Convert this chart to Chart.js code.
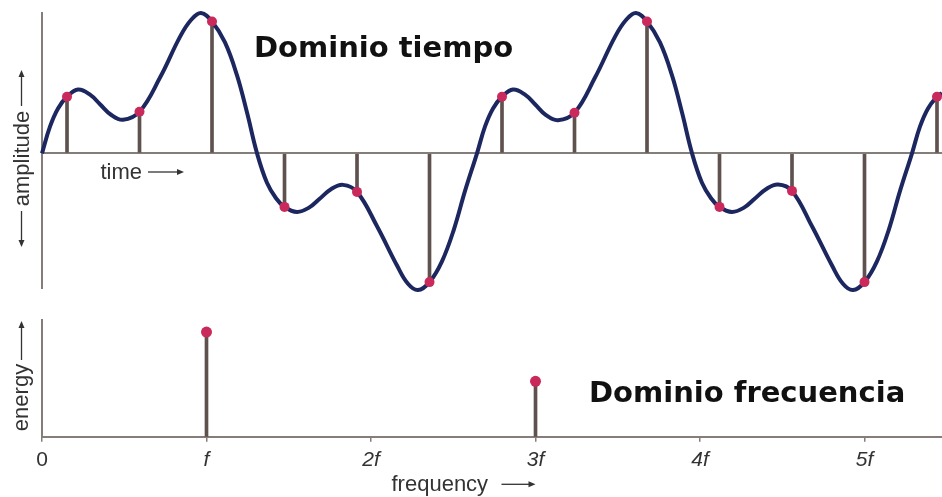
<!DOCTYPE html>
<html><head><meta charset="utf-8">
<script src="https://cdn.jsdelivr.net/npm/chart.js@4"></script>
<style>
html,body{margin:0;padding:0;background:#fff;}
#wrap{position:relative;width:942px;height:497px;overflow:hidden;background:#fff;}
#top{position:absolute;left:0;top:0;width:942px;height:300px;}
#bot{position:absolute;left:0;top:300px;width:942px;height:197px;}
</style></head><body>
<div id="wrap"><div id="top"><canvas id="c1"></canvas></div><div id="bot"><canvas id="c2"></canvas></div></div>
<script>
// ---- data (time domain) ----
const curveTime = [
  0.000,0.110,0.221,0.345,0.497,0.662,0.800,0.952,1.117,1.345,1.628,1.903,2.055,2.193,2.345,2.524,2.690,2.828,2.966,3.103,3.228,3.345,3.517,3.683,3.834,3.986,4.152,4.345,4.621,4.897,5.048,5.186,5.345,5.517,5.683,5.834,
  6.000,6.110,6.221,6.345,6.497,6.662,6.800,6.952,7.117,7.345,7.628,7.903,8.055,8.193,8.345,8.524,8.690,8.828,8.966,9.103,9.228,9.345,9.517,9.683,9.834,9.986,10.152,10.345,10.621,10.897,11.048,11.186,11.345,11.517,11.683,11.834,
  12.000,12.110,12.221,12.345,12.414];
const curveAmplitude = [
  0.000,0.190,0.320,0.403,0.454,0.418,0.350,0.275,0.239,0.296,0.540,0.830,0.950,1.000,0.940,0.790,0.555,0.290,0.000,-0.210,-0.320,-0.382,-0.418,-0.387,-0.322,-0.256,-0.225,-0.275,-0.520,-0.800,-0.930,-0.975,-0.918,-0.770,-0.540,-0.270,
  0.000,0.190,0.320,0.403,0.454,0.418,0.350,0.272,0.236,0.289,0.540,0.830,0.950,1.000,0.940,0.790,0.555,0.290,0.000,-0.210,-0.320,-0.382,-0.418,-0.387,-0.322,-0.256,-0.222,-0.268,-0.520,-0.800,-0.930,-0.975,-0.918,-0.770,-0.540,-0.270,
  0.000,0.190,0.320,0.403,0.430];
const sampleTime = [0.345,1.345,2.345,3.345,4.345,5.345,6.345,7.345,8.345,9.345,10.345,11.345,12.345];
const sampleAmplitude = [0.403,0.296,0.940,-0.382,-0.275,-0.918,0.403,0.289,0.940,-0.382,-0.268,-0.918,0.403];
// ---- data (frequency domain) ----
const freqTickLabels = ['0','f','2f','3f','4f','5f'];
const harmonicIndex = [1,3];
const harmonicEnergy = [1.0,0.53];
// ---- texts ----
const topTitleText = 'Dominio tiempo';
const botTitleText = 'Dominio frecuencia';
const timeLabel = 'time';
const amplitudeLabel = 'amplitude';
const energyLabel = 'energy';
const frequencyLabel = 'frequency';

const curveColor = '#1c2760';
const dotColor = '#c92a5b';
const stemColor = '#5e514e';
const axisColor = '#857d79';
const labelColor = '#333333';
const bigFont = 'bold 29px "DejaVu Sans"';
const smallFont = '22px "Liberation Sans"';

Chart.defaults.font.family = '"Liberation Sans", Arial, sans-serif';

function arrow(ctx, x1, y1, x2, y2) {
  const a = Math.atan2(y2 - y1, x2 - x1), L = 7, W = 3;
  ctx.beginPath(); ctx.moveTo(x1, y1);
  ctx.lineTo(x2 - L * 0.6 * Math.cos(a), y2 - L * 0.6 * Math.sin(a)); ctx.stroke();
  ctx.beginPath(); ctx.moveTo(x2, y2);
  ctx.lineTo(x2 - L * Math.cos(a) + W * Math.sin(a), y2 - L * Math.sin(a) - W * Math.cos(a));
  ctx.lineTo(x2 - L * Math.cos(a) - W * Math.sin(a), y2 - L * Math.sin(a) + W * Math.cos(a));
  ctx.closePath(); ctx.fill();
}
function vText(ctx, text, xBase, yCenter) {
  ctx.save(); ctx.translate(xBase, yCenter); ctx.rotate(-Math.PI / 2);
  ctx.textAlign = 'center'; ctx.textBaseline = 'alphabetic';
  ctx.fillText(text, 0, 0); ctx.restore();
}

const topLabels = {
  id: 'topLabels',
  afterDraw(chart) {
    const ctx = chart.ctx; ctx.save();
    ctx.fillStyle = '#111'; ctx.font = bigFont; ctx.textBaseline = 'alphabetic'; ctx.textAlign = 'left';
    ctx.fillText(topTitleText, 254, 57);
    ctx.fillStyle = labelColor; ctx.strokeStyle = labelColor; ctx.lineWidth = 1.3;
    ctx.font = smallFont;
    ctx.fillText(timeLabel, 100.5, 179);
    arrow(ctx, 148, 172, 184, 172);
    vText(ctx, amplitudeLabel, 28.5, 158.5);
    arrow(ctx, 21.5, 106, 21.5, 70);
    arrow(ctx, 21.5, 211, 21.5, 247);
    ctx.restore();
  }
};
const botLabels = {
  id: 'botLabels',
  afterDraw(chart) {
    const ctx = chart.ctx; ctx.save();
    ctx.fillStyle = '#111'; ctx.font = bigFont; ctx.textBaseline = 'alphabetic'; ctx.textAlign = 'left';
    ctx.fillText(botTitleText, 589, 102);
    ctx.fillStyle = labelColor; ctx.strokeStyle = labelColor; ctx.lineWidth = 1.3;
    ctx.font = smallFont;
    ctx.fillText(frequencyLabel, 391.5, 190.5);
    arrow(ctx, 501.5, 184.3, 535.5, 184.3);
    vText(ctx, energyLabel, 28, 97.5);
    arrow(ctx, 21.5, 60, 21.5, 21);
    ctx.restore();
  }
};

new Chart(document.getElementById('c1'), {
  type: 'scatter',
  data: {
    datasets: [
      { type: 'scatter', data: sampleTime.map((t, i) => ({ x: t, y: sampleAmplitude[i] })),
        pointRadius: 5, pointHoverRadius: 5, backgroundColor: dotColor, borderWidth: 0, order: 0, clip: false },
      { type: 'line', data: curveTime.map((t, i) => ({ x: t, y: curveAmplitude[i] })),
        showLine: true, borderColor: curveColor, borderWidth: 4, pointRadius: 0, fill: false,
        cubicInterpolationMode: 'default', tension: 0.4, capBezierPoints: false, order: 1, clip: false },
      { type: 'bar', data: sampleTime.map((t, i) => ({ x: t, y: sampleAmplitude[i] })),
        backgroundColor: stemColor, borderWidth: 0, barThickness: 3, order: 2 }
    ]
  },
  options: {
    responsive: true, maintainAspectRatio: false, animation: false,
    layout: { autoPadding: false, padding: { left: 42, top: 13, right: 0, bottom: 12 } },
    plugins: { legend: { display: false }, tooltip: { enabled: false } },
    scales: {
      x: { type: 'linear', min: 0, max: 12.414, display: false, offset: false, grid: { offset: false } },
      y: { type: 'linear', min: -0.96, max: 1.0,
        ticks: { display: false, stepSize: 0.5 },
        grid: { display: true, drawTicks: false, lineWidth: 2,
          color: (c) => (c.tick && Math.abs(c.tick.value) < 1e-9) ? axisColor : 'rgba(0,0,0,0)' },
        border: { display: true, color: axisColor, width: 2 } }
    }
  },
  plugins: [topLabels]
});

new Chart(document.getElementById('c2'), {
  type: 'scatter',
  data: {
    datasets: [
      { type: 'scatter', data: harmonicIndex.map((h, i) => ({ x: h, y: harmonicEnergy[i] })),
        pointRadius: 5.5, pointHoverRadius: 5.5, backgroundColor: dotColor, borderWidth: 0, order: 0, clip: false },
      { type: 'bar', data: harmonicIndex.map((h, i) => ({ x: h, y: harmonicEnergy[i] })),
        backgroundColor: stemColor, borderWidth: 0, barThickness: 3, order: 2 }
    ]
  },
  options: {
    responsive: true, maintainAspectRatio: false, animation: false,
    layout: { autoPadding: false, padding: { left: 42, top: 20, right: 0, bottom: 18 } },
    plugins: { legend: { display: false }, tooltip: { enabled: false } },
    scales: {
      x: { type: 'linear', min: 0, max: 5.471, offset: false,
        ticks: { stepSize: 1, includeBounds: false, autoSkip: false, maxRotation: 0, padding: 6, color: labelColor,
          font: (c) => ({ family: '"Liberation Sans"', size: 21, style: (c.tick && c.tick.value === 0) ? 'normal' : 'italic' }),
          callback: (v) => { const i = Math.round(v); return (Math.abs(v - i) < 1e-6 && i >= 0 && i < freqTickLabels.length) ? freqTickLabels[i] : ''; } },
        grid: { display: true, offset: false, drawOnChartArea: false, drawTicks: true, tickLength: 5, color: axisColor, lineWidth: 1.5 },
        border: { display: true, color: axisColor, width: 2 } },
      y: { type: 'linear', min: 0, max: 1.115,
        ticks: { display: false },
        grid: { display: false, drawTicks: false },
        border: { display: true, color: axisColor, width: 2 } }
    }
  },
  plugins: [botLabels]
});
</script>
</body></html>
